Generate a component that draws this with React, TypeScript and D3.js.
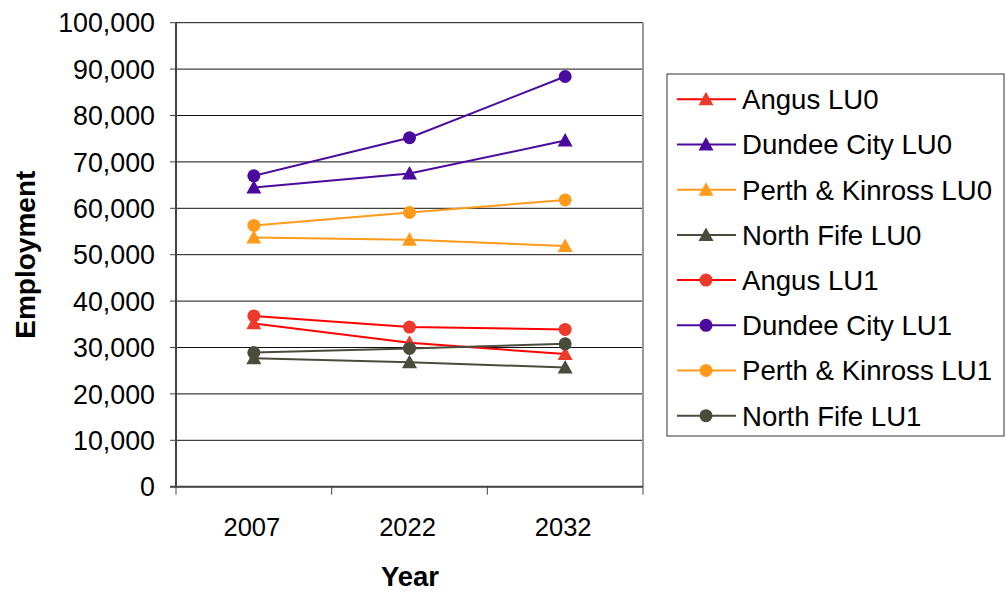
import * as d3 from "d3";

const years = ["2007", "2022", "2032"];
const yTickValues = [0, 10000, 20000, 30000, 40000, 50000, 60000, 70000, 80000, 90000, 100000];

const angusLU0 = [35200, 31000, 28600];
const dundeeLU0 = [64500, 67500, 74600];
const perthLU0 = [53700, 53200, 51900];
const northFifeLU0 = [27700, 26800, 25700];
const angusLU1 = [36800, 34400, 33900];
const dundeeLU1 = [67000, 75200, 88400];
const perthLU1 = [56300, 59100, 61800];
const northFifeLU1 = [28900, 29800, 30800];

const seriesNames = [
  "Angus LU0",
  "Dundee City LU0",
  "Perth & Kinross LU0",
  "North Fife LU0",
  "Angus LU1",
  "Dundee City LU1",
  "Perth & Kinross LU1",
  "North Fife LU1",
];
const seriesValues = [angusLU0, dundeeLU0, perthLU0, northFifeLU0, angusLU1, dundeeLU1, perthLU1, northFifeLU1];

const W = 1007;
const H = 593;
const PLOT = { left: 176, right: 643, top: 22.7, bottom: 486.7 };
const FONT = "Arial, 'Liberation Sans', sans-serif";

const lineColor: Record<string, string> = {
  Angus: "#ff0000",
  Dundee: "#4b0a9e",
  Perth: "#ff9a1a",
  North: "#4b4b3c",
};
const markColor: Record<string, string> = {
  Angus: "#ee3a2a",
  Dundee: "#4b0a9e",
  Perth: "#ff9a1a",
  North: "#4b4b3c",
};

function key(name: string) {
  return name.split(" ")[0];
}

function Marker({ cx, cy, tri, color }: { cx: number; cy: number; tri: boolean; color: string }) {
  if (tri) {
    const s = 7.5;
    return <path d={`M${cx},${cy - s} L${cx + s},${cy + s * 0.8} L${cx - s},${cy + s * 0.8} Z`} fill={color} />;
  }
  return <circle cx={cx} cy={cy} r={6.5} fill={color} />;
}

export default function App() {
  const x = d3.scaleBand<string>().domain(years).range([PLOT.left, PLOT.right]).padding(0);
  const cx = (yr: string) => (x(yr) ?? 0) + x.bandwidth() / 2;
  const y = d3.scaleLinear().domain([0, 100000]).range([PLOT.bottom, PLOT.top]);
  const fmt = d3.format(",");

  const line = d3
    .line<number>()
    .x((_, i) => cx(years[i]))
    .y((d) => y(d));

  const boundaries = [...years.map((yr) => x(yr) ?? 0), PLOT.right];

  const legendX = 667;
  const legendY = 74;
  const rowStep = 45.2;

  return (
    <svg width={W} height={H} style={{ position: "absolute", left: 0, top: 0, background: "#fff" }} fontFamily={FONT}>
      {/* grid */}
      {yTickValues.map((t) => (
        <line key={t} x1={PLOT.left} x2={PLOT.right} y1={y(t)} y2={y(t)} stroke="#111" strokeWidth={1} />
      ))}
      <line x1={PLOT.right} x2={PLOT.right} y1={PLOT.top} y2={PLOT.bottom} stroke="#999" strokeWidth={2} />

      {/* y axis */}
      <line x1={PLOT.left} x2={PLOT.left} y1={PLOT.top} y2={PLOT.bottom + 1} stroke="#444" strokeWidth={2} />
      {yTickValues.map((t) => (
        <g key={`yt-${t}`}>
          <line x1={PLOT.left - 6} x2={PLOT.left} y1={y(t)} y2={y(t)} stroke="#444" strokeWidth={1} />
          <text x={155} y={y(t)} dy="0.36em" textAnchor="end" fontSize={26.8} fill="#000">
            {fmt(t)}
          </text>
        </g>
      ))}

      {/* x axis */}
      <line x1={PLOT.left - 6} x2={PLOT.right} y1={PLOT.bottom} y2={PLOT.bottom} stroke="#444" strokeWidth={2} />
      {boundaries.map((b, i) => (
        <line key={`xt-${i}`} x1={b} x2={b} y1={PLOT.bottom} y2={PLOT.bottom + 8} stroke="#444" strokeWidth={1} />
      ))}
      {years.map((yr) => (
        <text key={yr} x={cx(yr) - 2} y={536} textAnchor="middle" fontSize={25.5} fill="#000">
          {yr}
        </text>
      ))}

      {/* titles */}
      <text x={410} y={586} textAnchor="middle" fontSize={27.5} fontWeight="bold" fill="#000">
        Year
      </text>
      <text
        transform={`translate(35,${(PLOT.top + PLOT.bottom) / 2}) rotate(-90)`}
        textAnchor="middle"
        fontSize={28}
        fontWeight="bold"
        fill="#000"
      >
        Employment
      </text>

      {/* series */}
      {seriesNames.map((name, si) => {
        const k = key(name);
        const tri = si < 4;
        return (
          <g key={name}>
            <path d={line(seriesValues[si]) ?? undefined} fill="none" stroke={lineColor[k]} strokeWidth={2} />
            {seriesValues[si].map((v, i) => (
              <Marker key={i} cx={cx(years[i])} cy={y(v)} tri={tri} color={markColor[k]} />
            ))}
          </g>
        );
      })}

      {/* legend */}
      <rect x={legendX} y={legendY} width={337} height={362} fill="#fff" stroke="#333" strokeWidth={1} />
      {seriesNames.map((name, i) => {
        const k = key(name);
        const ry = legendY + 25.3 + i * rowStep;
        return (
          <g key={`lg-${name}`}>
            <line x1={677} x2={736} y1={ry} y2={ry} stroke={lineColor[k]} strokeWidth={2} />
            <Marker cx={706} cy={ry} tri={i < 4} color={markColor[k]} />
            <text x={742} y={ry} dy="0.36em" fontSize={27.6} fill="#000">
              {name}
            </text>
          </g>
        );
      })}
    </svg>
  );
}
